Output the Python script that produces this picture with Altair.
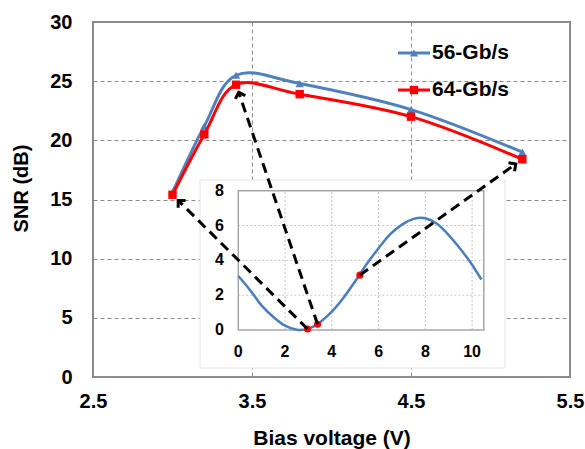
import math
import altair as alt
import pandas as pd

# ---------------- data ----------------
bias_v = [3.0, 3.2, 3.4, 3.8, 4.5, 5.2]
snr_56 = [15.6, 21.2, 25.5, 24.8, 22.6, 19.0]
snr_64 = [15.4, 20.5, 24.7, 23.9, 22.0, 18.4]
series = ["56-Gb/s", "64-Gb/s"]
colors = ["#4f81bd", "#ff0000"]
shapes = ["triangle-up", "square"]
x_ticks = [2.5, 3.5, 4.5, 5.5]
y_ticks = [0, 5, 10, 15, 20, 25, 30]
x_domain = [2.5, 5.5]
y_domain = [0, 30]

# inset (transfer curve)
inset_v = [0.0, 0.5, 1.0, 1.5, 2.0, 2.5, 3.0, 3.5, 4.0, 4.5, 5.0, 5.5, 6.0,
           6.5, 7.0, 7.5, 8.0, 8.5, 9.0, 9.5, 10.0, 10.4]
inset_p = [3.1, 2.3, 1.4, 0.75, 0.25, 0.02, 0.08, 0.45, 1.05, 1.85, 2.8, 3.8,
           4.7, 5.5, 6.05, 6.38, 6.42, 6.1, 5.45, 4.65, 3.75, 2.9]
inset_dot_v = [2.96, 3.39, 5.2]
inset_dot_p = [0.06, 0.33, 3.15]
inset_x_ticks = [0, 2, 4, 6, 8, 10]
inset_y_ticks = [0, 2, 4, 6, 8]
inset_x_domain = [0, 10.5]
inset_y_domain = [0, 8]

# arrows: from inset dots to main points
arrow_target_v = [3.0, 3.4, 5.2]
arrow_target_snr = [15.4, 24.7, 18.4]

# ---------------- layout ----------------
W, H = 477, 355
FONT = "Liberation Sans"
PXX = W / (x_domain[1] - x_domain[0])
PXY = H / (y_domain[1] - y_domain[0])
# inset plot box in plot-area pixels
IL, IR, IT, IB = 145.3, 390.8, 168.7, 308.0
AX = x_domain[0] + IL / PXX
BX = (IR - IL) / (inset_x_domain[1] - inset_x_domain[0]) / PXX
AY = y_domain[0] + (H - IB) / PXY
BY = (IB - IT) / (inset_y_domain[1] - inset_y_domain[0]) / PXY


def ex(f):
    return f"{AX} + {BX}*datum['{f}']"


def ey(f):
    return f"{AY} + {BY}*datum['{f}']"


xs = alt.Scale(domain=x_domain)
ys = alt.Scale(domain=y_domain)

x_axis = alt.Axis(
    values=x_ticks, format=".1f", title="Bias voltage (V)",
    grid=True, gridDash=[4, 3], gridColor="#8a8a8a", gridWidth=1,
    domain=False, ticks=False, labelPadding=14, labelFlush=False,
    labelFont=FONT, labelFontSize=20, labelFontWeight="bold", labelColor="black",
    titleFont=FONT, titleFontSize=21, titleFontWeight="bold", titleColor="black",
    titlePadding=16)
y_axis = alt.Axis(
    values=y_ticks, title="SNR (dB)",
    grid=True, gridDash=[4, 3], gridColor="#8a8a8a", gridWidth=1,
    domain=False, ticks=False, labelPadding=21, labelFlush=False,
    labelFont=FONT, labelFontSize=20, labelFontWeight="bold", labelColor="black",
    titleFont=FONT, titleFontSize=20, titleFontWeight="bold", titleColor="black",
    titlePadding=18, titleY=166)


def X(f, **kw):
    return alt.X(f"{f}:Q", scale=xs, axis=x_axis, **kw)


def Y(f, **kw):
    return alt.Y(f"{f}:Q", scale=ys, axis=y_axis, **kw)


main_df = pd.DataFrame({
    "v": bias_v * 2,
    "snr": snr_56 + snr_64,
    "series": [series[0]] * len(bias_v) + [series[1]] * len(bias_v),
})

axes = alt.Chart(main_df).mark_point(opacity=0).encode(x=X("v"), y=Y("snr"))

one = pd.DataFrame({"a": [0]})

panel = alt.Chart(one).mark_rect(fill="white", stroke="#e4e4e4", strokeWidth=1).encode(
    x=alt.value(107), x2=alt.value(412), y=alt.value(158), y2=alt.value(346))

inset_box_df = pd.DataFrame({"x0": [inset_x_domain[0]], "x1": [inset_x_domain[1]],
                             "t0": [inset_y_domain[0]], "t1": [inset_y_domain[1]]})
inset_box = alt.Chart(inset_box_df).transform_calculate(
    X0=ex("x0"), X1=ex("x1"), Y0=ey("t0"), Y1=ey("t1")
).mark_rect(fill=None, stroke="#a6a6a6", strokeWidth=1.5).encode(
    x=X("X0"), x2="X1", y=Y("Y0"), y2="Y1")

vgrid_df = pd.DataFrame({"v": [t for t in inset_x_ticks if t > 0]})
vgrid = alt.Chart(vgrid_df).transform_calculate(
    X=ex("v"), Y0=f"{AY}", Y1=f"{AY + BY * inset_y_domain[1]}"
).mark_rule(color="#c4c4c4", strokeDash=[2, 2], strokeWidth=1).encode(
    x=X("X"), y=Y("Y0"), y2="Y1")

hgrid_df = pd.DataFrame({"p": [t for t in inset_y_ticks if 0 < t < 8]})
hgrid = alt.Chart(hgrid_df).transform_calculate(
    Y=ey("p"), X0=f"{AX}", X1=f"{AX + BX * inset_x_domain[1]}"
).mark_rule(color="#c4c4c4", strokeDash=[2, 2], strokeWidth=1).encode(
    y=Y("Y"), x=X("X0"), x2="X1")

inset_xlab = alt.Chart(pd.DataFrame({"v": inset_x_ticks})).transform_calculate(
    X=ex("v")
).mark_text(font=FONT, fontSize=16, fontWeight="bold", color="black",
            baseline="middle", align="center").encode(
    x=X("X"), y=alt.value(329.7), text=alt.Text("v:Q"))

inset_ylab = alt.Chart(pd.DataFrame({"p": inset_y_ticks})).transform_calculate(
    Y=ey("p")
).mark_text(font=FONT, fontSize=16, fontWeight="bold", color="black",
            baseline="middle", align="right").encode(
    y=Y("Y"), x=alt.value(131), text=alt.Text("p:Q"))

curve_df = pd.DataFrame({"v": inset_v, "p": inset_p})
curve = alt.Chart(curve_df).transform_calculate(
    X=ex("v"), Y=ey("p")
).mark_line(color="#4a7ebb", strokeWidth=2.5, interpolate="cardinal").encode(
    x=X("X"), y=Y("Y"), order="v:Q")

dots_df = pd.DataFrame({"v": inset_dot_v, "p": inset_dot_p})
dots = alt.Chart(dots_df).transform_calculate(
    X=ex("v"), Y=ey("p")
).mark_circle(color="#ff0000", size=50, opacity=1).encode(x=X("X"), y=Y("Y"))

layers = [axes, panel, inset_box, vgrid, hgrid, inset_xlab, inset_ylab, curve, dots]

for s, c, sh in zip(series, colors, shapes):
    d = main_df[main_df.series == s]
    layers.append(alt.Chart(d).mark_line(color=c, strokeWidth=3, interpolate="cardinal")
                  .encode(x=X("v"), y=Y("snr")))
    layers.append(alt.Chart(d).mark_point(shape=sh, filled=True, color=c, size=70, opacity=1)
                  .encode(x=X("v"), y=Y("snr")))

arrow_df = pd.DataFrame({"xi": inset_dot_v, "ti": inset_dot_p,
                         "xm": arrow_target_v, "ym": arrow_target_snr})
GAP = 8
arrows_base = alt.Chart(arrow_df).transform_calculate(
    X1=ex("xi"), Y1=ey("ti")
).transform_calculate(
    dxp=f"(datum.xm - datum.X1)*{PXX}", dyp=f"(datum.ym - datum.Y1)*{PXY}"
).transform_calculate(
    L="sqrt(datum.dxp*datum.dxp + datum.dyp*datum.dyp)"
).transform_calculate(
    XE=f"datum.xm - datum.dxp/datum.L*{GAP}/{PXX}",
    YE=f"datum.ym - datum.dyp/datum.L*{GAP}/{PXY}",
    ang="(atan2(datum.dxp, datum.dyp)*180/PI + 360) % 360",
)
arrow_lines = arrows_base.mark_rule(color="black", strokeWidth=3, strokeDash=[10, 6]).encode(
    x=X("X1"), y=Y("Y1"), x2="XE", y2="YE")
arrow_heads = arrows_base.mark_point(shape="M-1,1L0,0L1,1", filled=False, color="black",
                                     strokeWidth=3, size=110, opacity=1).encode(
    x=X("XE"), y=Y("YE"), angle=alt.Angle("ang:Q", scale=None))
layers += [arrow_lines, arrow_heads]

# legend
leg_df = pd.DataFrame({"series": series})
leg_y = [31, 68]
for s, c, sh, ly in zip(series, colors, shapes, leg_y):
    base = alt.Chart(leg_df).transform_filter(alt.datum.series == s)
    layers.append(base.mark_rule(color=c, strokeWidth=3).encode(
        x=alt.value(305), x2=alt.value(337), y=alt.value(ly)))
    layers.append(base.mark_point(shape=sh, filled=True, color=c, size=70, opacity=1).encode(
        x=alt.value(321), y=alt.value(ly)))
    layers.append(base.mark_text(font=FONT, fontSize=21, fontWeight="bold", color="black",
                                 align="left", baseline="middle").encode(
        x=alt.value(339), y=alt.value(ly), text="series:N"))

chart = alt.layer(*layers).properties(
    width=W, height=H,
    autosize=alt.AutoSizeParams(type="none"),
    padding={"left": 93, "top": 22, "right": 15, "bottom": 72},
).configure_view(stroke="#8c8c8c", strokeWidth=2)

chart.save("out.html", embed_options={"renderer": "svg", "actions": False})
